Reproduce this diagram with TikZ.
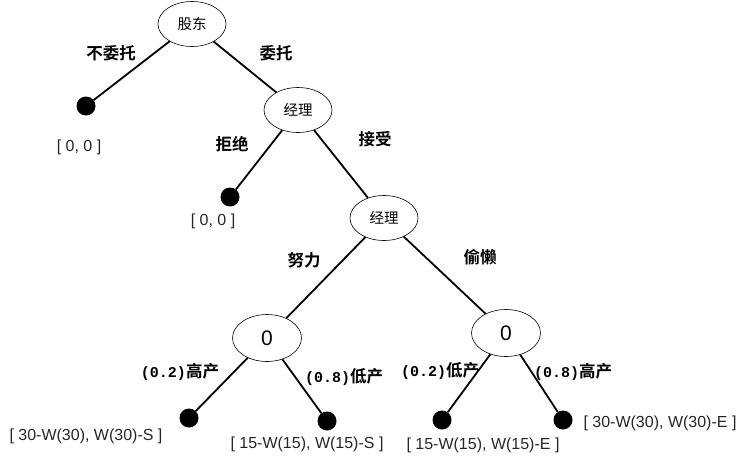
\documentclass[tikz,border=0pt]{standalone}
\usepackage{fontspec}
\setmainfont{Liberation Sans}
\newfontfamily\cjk{Noto Sans CJK SC}
\newfontfamily\cjkb{Noto Sans CJK SC Bold}
\newfontfamily\monob{Liberation Mono}
\usetikzlibrary{shapes.geometric}
\begin{document}
\begin{tikzpicture}[x=1pt,y=-1pt,
  decision/.style={ellipse,draw=black,line width=0.6pt,minimum width=68pt,minimum height=45pt,inner sep=0pt,font=\cjk\fontsize{14.5}{14.5}\selectfont},
  chance/.style={ellipse,draw=black,line width=0.6pt,minimum width=69pt,minimum height=47pt,inner sep=0pt,font=\fontsize{21}{21}\selectfont},
  leaf/.style={circle,fill=black,minimum size=19pt,inner sep=0pt},
  edge/.style={line width=1.8pt},
  act/.style={font=\cjkb\fontsize{16.5}{16.5}\selectfont},
  pay/.style={font=\fontsize{16}{16}\selectfont,text=black!85},
]
\useasboundingbox (0,0) rectangle (751,463);
\node[decision] (sh) at (192,24) {股东};
\node[decision] (m1) at (298,110) {经理};
\node[decision] (m2) at (384,218) {经理};
\node[chance] (c1) at (267,338) {0};
\node[chance] (c2) at (506,333) {0};
\node[leaf] (l1) at (86,106) {};
\node[leaf] (l2) at (230,197) {};
\node[leaf] (l3) at (189,418) {};
\node[leaf] (l4) at (327,421) {};
\node[leaf] (l5) at (442,420) {};
\node[leaf] (l6) at (563,420) {};
\draw[edge] (sh) -- (l1);
\draw[edge] (sh) -- (m1);
\draw[edge] (m1) -- (l2);
\draw[edge] (m1) -- (m2);
\draw[edge] (m2) -- (c1);
\draw[edge] (m2) -- (c2);
\draw[edge] (c1) -- (l3);
\draw[edge] (c1) -- (l4);
\draw[edge] (c2) -- (l5);
\draw[edge] (c2) -- (l6);
\node[act] (t1) at (111,53) {不委托};
\node[act] (t2) at (276,53) {委托};
\node[act] (t3) at (232,144) {拒绝};
\node[act] (t4) at (375,139) {接受};
\node[act] (t5) at (304,260) {努力};
\node[act] (t6) at (480,257) {偷懒};
\node[act] (t7) at (180,372) {{\monob\bfseries\fontsize{15}{15}\selectfont (0.2)}高产};
\node[act] (t8) at (344,377) {{\monob\bfseries\fontsize{15}{15}\selectfont (0.8)}低产};
\node[act] (t9) at (440,371) {{\monob\bfseries\fontsize{15}{15}\selectfont (0.2)}低产};
\node[act] (t10) at (573,372) {{\monob\bfseries\fontsize{15}{15}\selectfont (0.8)}高产};
\node[pay] (p1) at (79,147) {[ 0, 0 ]};
\node[pay] (p2) at (213,221) {[ 0, 0 ]};
\node[pay] (p3) at (86,436) {[ 30-W(30), W(30)-S ]};
\node[pay] (p4) at (307,444) {[ 15-W(15), W(15)-S ]};
\node[pay] (p5) at (483,445) {[ 15-W(15), W(15)-E ]};
\node[pay] (p6) at (660,423) {[ 30-W(30), W(30)-E ]};
\end{tikzpicture}
\end{document}
